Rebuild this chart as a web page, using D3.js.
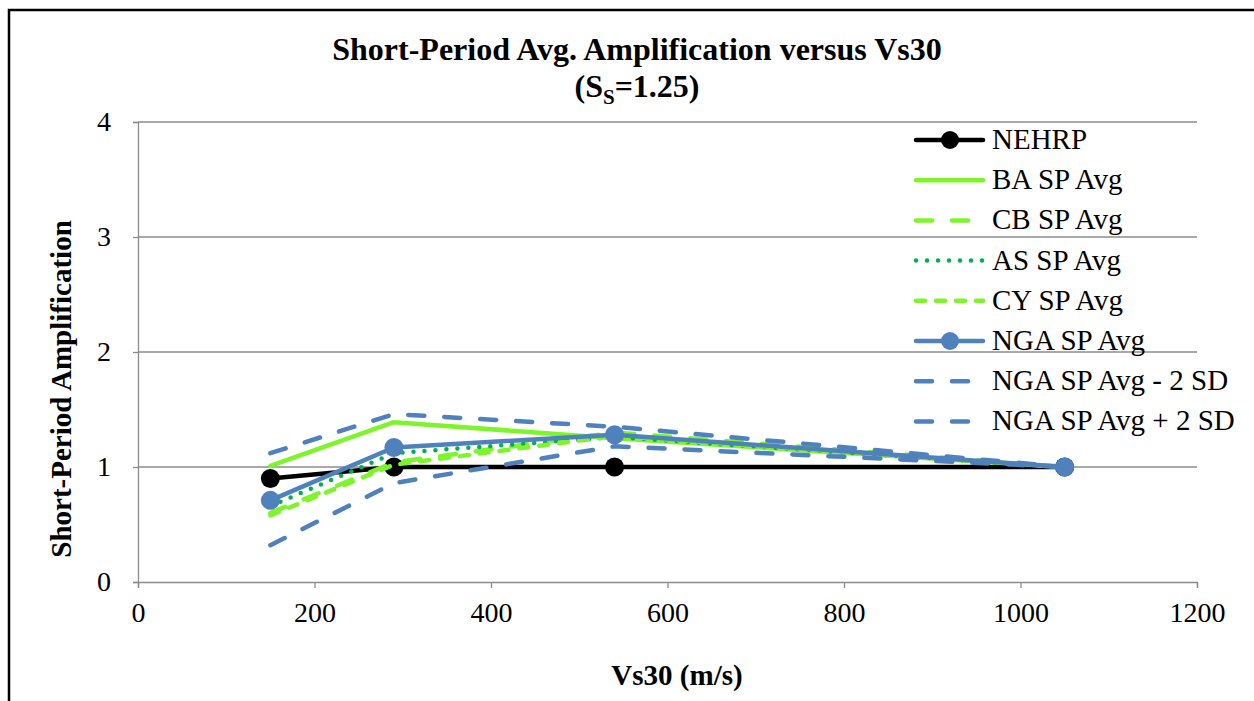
<!DOCTYPE html>
<html>
<head>
<meta charset="utf-8">
<script src="https://cdn.jsdelivr.net/npm/d3@7"></script>
<style>
  html, body { margin: 0; padding: 0; background: #fff; }
  svg { display: block; font-family: "Liberation Serif", "Times New Roman", serif; }
</style>
</head>
<body>
<div id="chart"></div>
<script>
// Vs30 values (m/s)
const vs30 = [150, 290, 540, 1050];

// series values
const nehrp   = [0.90, 1.00, 1.00, 1.00];
const baAvg   = [1.01, 1.39, 1.25, 1.00];
const cbAvg   = [0.60, 1.04, 1.30, 1.00];
const asAvg   = [0.66, 1.12, 1.26, 1.00];
const cyAvg   = [0.58, 1.02, 1.27, 1.00];
const ngaAvg  = [0.71, 1.17, 1.28, 1.00];
const ngaLow  = [0.32, 0.86, 1.18, 1.00];
const ngaHigh = [1.12, 1.46, 1.35, 1.00];

const seriesNames = ["NEHRP", "BA SP Avg", "CB SP Avg", "AS SP Avg", "CY SP Avg",
                     "NGA SP Avg", "NGA SP Avg - 2 SD", "NGA SP Avg + 2 SD"];
const seriesValues = [nehrp, baAvg, cbAvg, asAvg, cyAvg, ngaAvg, ngaLow, ngaHigh];

const xTicks = [0, 200, 400, 600, 800, 1000, 1200];
const yTicks = [0, 1, 2, 3, 4];

// styles per series
const styles = [
  { color: "#000000", dash: null,    marker: true },
  { color: "#7ef52a", dash: null,    marker: false },
  { color: "#7ef52a", dash: "16,20", marker: false },
  { color: "#00b050", dash: "0,11",  marker: false },
  { color: "#7ef52a", dash: "9,11",  marker: false },
  { color: "#4f81bd", dash: null,    marker: true },
  { color: "#4f81bd", dash: "16,20", marker: false },
  { color: "#4f81bd", dash: "16,20", marker: false }
];

const width = 1254, height = 701;
const margin = { left: 138, right: 57, top: 122, bottom: 119 };
const serif = "'Liberation Serif', 'Times New Roman', serif";

const svg = d3.select("#chart").append("svg")
  .attr("width", width)
  .attr("height", height);

svg.append("rect").attr("width", width).attr("height", height).attr("fill", "#fff");

// outer frame (left and top edges visible)
svg.append("path")
  .attr("d", `M9,${height} L9,10 L${width},10`)
  .attr("fill", "none")
  .attr("stroke", "#000")
  .attr("stroke-width", 2.5);

const x = d3.scaleLinear().domain([0, 1200]).range([margin.left, width - margin.right]);
const y = d3.scaleLinear().domain([0, 4]).range([height - margin.bottom, margin.top]);

// gridlines
svg.append("g")
  .selectAll("line")
  .data(yTicks.filter(d => d > 0))
  .join("line")
  .attr("x1", x(0)).attr("x2", x(1200))
  .attr("y1", d => y(d)).attr("y2", d => y(d))
  .attr("stroke", "#8c8c8c")
  .attr("stroke-width", 1.3);

// y axis
const yAxis = svg.append("g")
  .attr("transform", `translate(${x(0)},0)`)
  .call(d3.axisLeft(y).tickValues(yTicks).tickSize(5).tickPadding(22).tickFormat(d3.format("d")));
yAxis.select(".domain").attr("stroke", "#8c8c8c").attr("stroke-width", 1.3);
yAxis.selectAll(".tick line").attr("stroke", "#8c8c8c").attr("stroke-width", 1.3);
yAxis.selectAll("text")
  .attr("font-family", serif)
  .attr("font-size", 28).attr("fill", "#000");

// x axis
const xAxis = svg.append("g")
  .attr("transform", `translate(0,${y(0)})`)
  .call(d3.axisBottom(x).tickValues(xTicks).tickSize(6).tickPadding(14).tickFormat(d3.format("d")));
xAxis.select(".domain").attr("stroke", "#8c8c8c").attr("stroke-width", 1.3);
xAxis.selectAll(".tick line").attr("stroke", "#8c8c8c").attr("stroke-width", 1.3);
xAxis.selectAll("text")
  .attr("font-family", serif)
  .attr("font-size", 28).attr("fill", "#000");

// lines
const line = d3.line().x((d, i) => x(vs30[i])).y(d => y(d));
const plot = svg.append("g");

seriesValues.forEach((vals, k) => {
  const st = styles[k];
  const g = plot.append("g");
  g.append("path")
    .attr("d", line(vals))
    .attr("fill", "none")
    .attr("stroke", st.color)
    .attr("stroke-width", 4.5)
    .attr("stroke-linecap", "round")
    .attr("stroke-linejoin", "round")
    .attr("stroke-dasharray", st.dash);
  if (st.marker) {
    g.selectAll("circle")
      .data(vals)
      .join("circle")
      .attr("cx", (d, i) => x(vs30[i]))
      .attr("cy", d => y(d))
      .attr("r", 9.5)
      .attr("fill", st.color);
  }
});

// legend
const legend = svg.append("g");
seriesNames.forEach((name, k) => {
  const st = styles[k];
  const ly = 140 + k * 40.2;
  const row = legend.append("g").attr("transform", `translate(0,${ly})`);
  row.append("line")
    .attr("x1", 916).attr("x2", 983)
    .attr("stroke", st.color)
    .attr("stroke-width", 4.5)
    .attr("stroke-linecap", "round")
    .attr("stroke-dasharray", st.dash);
  if (st.marker) {
    row.append("circle").attr("cx", 950).attr("r", 9).attr("fill", st.color);
  }
  row.append("text")
    .attr("x", 992).attr("y", 9)
    .attr("font-size", 29)
    .attr("fill", "#000")
    .text(name);
});

// title
const title = svg.append("text")
  .attr("text-anchor", "middle")
  .attr("font-weight", "bold")
  .attr("font-size", 32)
  .attr("fill", "#000");
title.append("tspan").attr("x", 637).attr("y", 60).text("Short-Period Avg. Amplification versus Vs30");
const t2 = title.append("tspan").attr("x", 637).attr("y", 97);
t2.append("tspan").text("(S");
t2.append("tspan").attr("font-size", 21).attr("dy", 7).text("S");
t2.append("tspan").attr("dy", -7).text("=1.25)");

// axis titles
svg.append("text")
  .attr("transform", `translate(71,${(y(0) + y(4)) / 2 + 37}) rotate(-90)`)
  .attr("text-anchor", "middle")
  .attr("font-weight", "bold")
  .attr("font-size", 29)
  .attr("fill", "#000")
  .text("Short-Period Amplification");

svg.append("text")
  .attr("x", 677).attr("y", 685)
  .attr("text-anchor", "middle")
  .attr("font-weight", "bold")
  .attr("font-size", 29)
  .attr("fill", "#000")
  .text("Vs30 (m/s)");
</script>
</body>
</html>
